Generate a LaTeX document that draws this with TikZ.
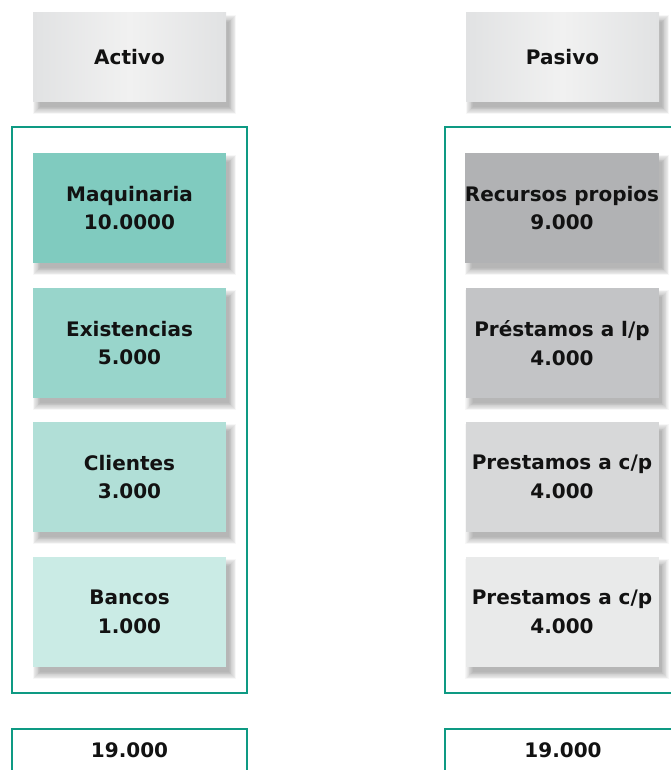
\documentclass[tikz,border=0pt]{standalone}
\usepackage{fontspec}
\setmainfont{DejaVu Sans}
\pgfdeclarelayer{bg}
\pgfsetlayers{bg,main}
\definecolor{teal}{HTML}{0E9A83}
\definecolor{aone}{HTML}{80CBBF}
\definecolor{atwo}{HTML}{98D5CB}
\definecolor{athree}{HTML}{B1DFD7}
\definecolor{afour}{HTML}{CAEBE5}
\definecolor{pone}{HTML}{B1B2B4}
\definecolor{ptwo}{HTML}{C3C4C6}
\definecolor{pthree}{HTML}{D7D8D9}
\definecolor{pfour}{HTML}{E9EAEA}
\definecolor{hedge}{HTML}{E1E2E3}
\definecolor{hmid}{HTML}{F1F1F1}
\newcommand\mysoftshadow[1]{%
  \foreach \k in {0,...,9}{%
    \fill[black, fill opacity=0.032]
      ([xshift={0pt+0.8pt*\k}, yshift={-2pt-0.8pt*\k}]#1.north west) rectangle
      ([xshift={10pt-0.8pt*\k}, yshift={-12pt+0.8pt*\k}]#1.south east);
  }}
\tikzset{
  x=1pt, y=-1pt,
  lbl/.style={font=\fontsize{20}{28.5}\selectfont\bfseries, text=black!93, align=center, inner sep=0pt},
  header/.style={lbl, minimum width=193pt, minimum height=89pt, left color=hedge, right color=hedge, middle color=hmid, shading angle=90},
  item/.style={lbl, minimum width=193pt, minimum height=110pt},
  frame/.style={draw=teal, line width=2pt, minimum width=235pt, minimum height=566pt, inner sep=0pt},
  total/.style={lbl, draw=teal, line width=2pt, minimum width=235pt, minimum height=80pt, text depth=0pt}
}
\begin{document}
\begin{tikzpicture}
\useasboundingbox (0,0) rectangle (670,770);
\begin{pgfonlayer}{bg}
\fill[white] (0,0) rectangle (670,770);
\end{pgfonlayer}
% headers
\node[header] (hA) at (129.5,57.5) {Activo};
\node[header] (hP) at (562.5,57.5) {Pasivo};
% frames
\node[frame] (fA) at (129.5,410) {};
\node[frame] (fP) at (562.5,410) {};
% activo items
\node[item, fill=aone]   (a1) at (129.5,208) {Maquinaria\\10.0000};
\node[item, fill=atwo]   (a2) at (129.5,343) {Existencias\\5.000};
\node[item, fill=athree] (a3) at (129.5,477) {Clientes\\3.000};
\node[item, fill=afour]  (a4) at (129.5,612) {Bancos\\1.000};
% pasivo items
\node[item, fill=pone]   (p1) at (562,208) {Recursos propios\\9.000};
\node[item, fill=ptwo]   (p2) at (562,343) {Préstamos a l/p\\4.000};
\node[item, fill=pthree] (p3) at (562,477) {Prestamos a c/p\\4.000};
\node[item, fill=pfour]  (p4) at (562,612) {Prestamos a c/p\\4.000};
% totals
\node[total, anchor=north] (tA) at (129.5,728) {};
\node[total, anchor=north] (tP) at (562.5,728) {};
\node[lbl] (tAl) at (129.5,750) {19.000};
\node[lbl] (tPl) at (563,750) {19.000};
% shadows
\begin{pgfonlayer}{bg}
\foreach \n in {hA,hP,a1,a2,a3,a4,p1,p2,p3,p4}{\mysoftshadow{\n}}
\end{pgfonlayer}
\end{tikzpicture}
\end{document}
